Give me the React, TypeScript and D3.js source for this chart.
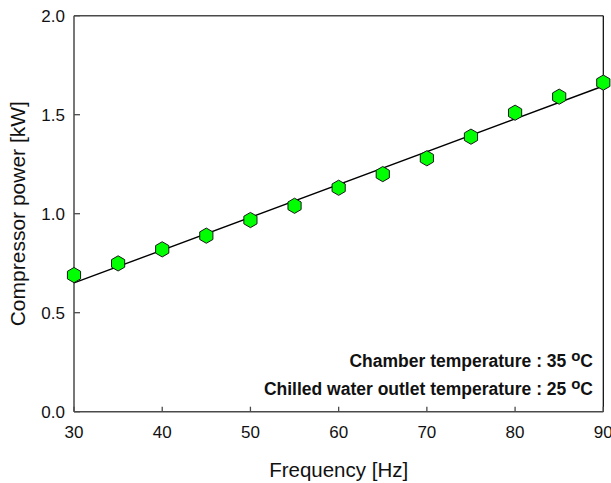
import React from "react";
import * as d3 from "d3";

const frequencies = [30, 35, 40, 45, 50, 55, 60, 65, 70, 75, 80, 85, 90];
const powerKW = [0.690, 0.749, 0.820, 0.889, 0.968, 1.040, 1.131, 1.200, 1.280, 1.389, 1.510, 1.591, 1.662];
const xTicks = [30, 40, 50, 60, 70, 80, 90];
const yTicks = [0.0, 0.5, 1.0, 1.5, 2.0];
const annotations = ["Chamber temperature : 35 ", "Chilled water outlet temperature : 25 "];

const W = 611, H = 483;
const M = { left: 74, right: 603.3, top: 15.7, bottom: 411.7 };
const FONT = "'Liberation Sans', Arial, Helvetica, sans-serif";

export default function App() {
  const x = d3.scaleLinear().domain([30, 90]).range([M.left, M.right]);
  const y = d3.scaleLinear().domain([0, 2]).range([M.bottom, M.top]);

  // least squares fit
  const mx = d3.mean(frequencies)!;
  const my = d3.mean(powerKW)!;
  let sxy = 0, sxx = 0;
  frequencies.forEach((f, i) => { sxy += (f - mx) * (powerKW[i] - my); sxx += (f - mx) ** 2; });
  const slope = sxy / sxx;
  const intercept = my - slope * mx;
  const fitLine = d3.line<number>().x(f => x(f)).y(f => y(intercept + slope * f));

  const hex = (cx: number, cy: number, r: number) => {
    const pts: string[] = [];
    for (let k = 0; k < 6; k++) {
      const a = -Math.PI / 2 + k * Math.PI / 3;
      pts.push(`${cx + r * Math.cos(a)},${cy + r * Math.sin(a)}`);
    }
    return pts.join(" ");
  };

  const axisColor = "#4a4a4a";

  return (
    <svg width={W} height={H} style={{ position: "absolute", left: 0, top: 0, background: "#fff" }} fontFamily={FONT}>
      <rect x={0} y={0} width={W} height={H} fill="#fff" />
      {/* frame */}
      <line x1={M.left} x2={M.right} y1={M.top} y2={M.top} stroke={axisColor} strokeWidth={1.5} />
      <line x1={M.right} x2={M.right} y1={M.top} y2={M.bottom} stroke="#000" strokeWidth={1.2} />
      <line x1={M.left} x2={M.left} y1={M.top} y2={M.bottom} stroke={axisColor} strokeWidth={1.5} />
      <line x1={M.left} x2={M.right} y1={M.bottom} y2={M.bottom} stroke={axisColor} strokeWidth={1.5} />
      {/* y ticks */}
      {yTicks.map(t => (
        <g key={"y" + t}>
          <line x1={M.left} x2={M.left + 6} y1={y(t)} y2={y(t)} stroke={axisColor} strokeWidth={1.3} />
          <text x={M.left - 9} y={y(t) + 6} fontSize={17} textAnchor="end" fill="#111">{t.toFixed(1)}</text>
        </g>
      ))}
      {/* x ticks */}
      {xTicks.map(t => (
        <g key={"x" + t}>
          <line x1={x(t)} x2={x(t)} y1={M.bottom} y2={M.bottom - 5} stroke={axisColor} strokeWidth={1.3} />
          <text x={x(t)} y={438} fontSize={17} textAnchor="middle" fill="#111">{t}</text>
        </g>
      ))}
      {/* axis titles */}
      <text x={(M.left + M.right) / 2} y={477} fontSize={20.5} textAnchor="middle" fill="#111">Frequency [Hz]</text>
      <text transform={`translate(25,${(M.top + M.bottom) / 2}) rotate(-90)`} fontSize={21} textAnchor="middle" fill="#111">Compressor power [kW]</text>
      {/* fit line */}
      <path d={fitLine([30, 90])!} stroke="#000" strokeWidth={1.4} fill="none" />
      {/* markers */}
      {frequencies.map((f, i) => (
        <polygon key={f} points={hex(x(f), y(powerKW[i]), 7.6)} fill="#00ff00" stroke="#1a1a1a" strokeWidth={1} />
      ))}
      {/* annotations */}
      {annotations.map((a, i) => (
        <text key={i} x={593} y={367.3 + i * 28} fontSize={17.5} fontWeight="bold" textAnchor="end" fill="#111">
          {a}
          <tspan dy={-6} fontSize={15}>o</tspan>
          <tspan dy={6}>C</tspan>
        </text>
      ))}
    </svg>
  );
}
